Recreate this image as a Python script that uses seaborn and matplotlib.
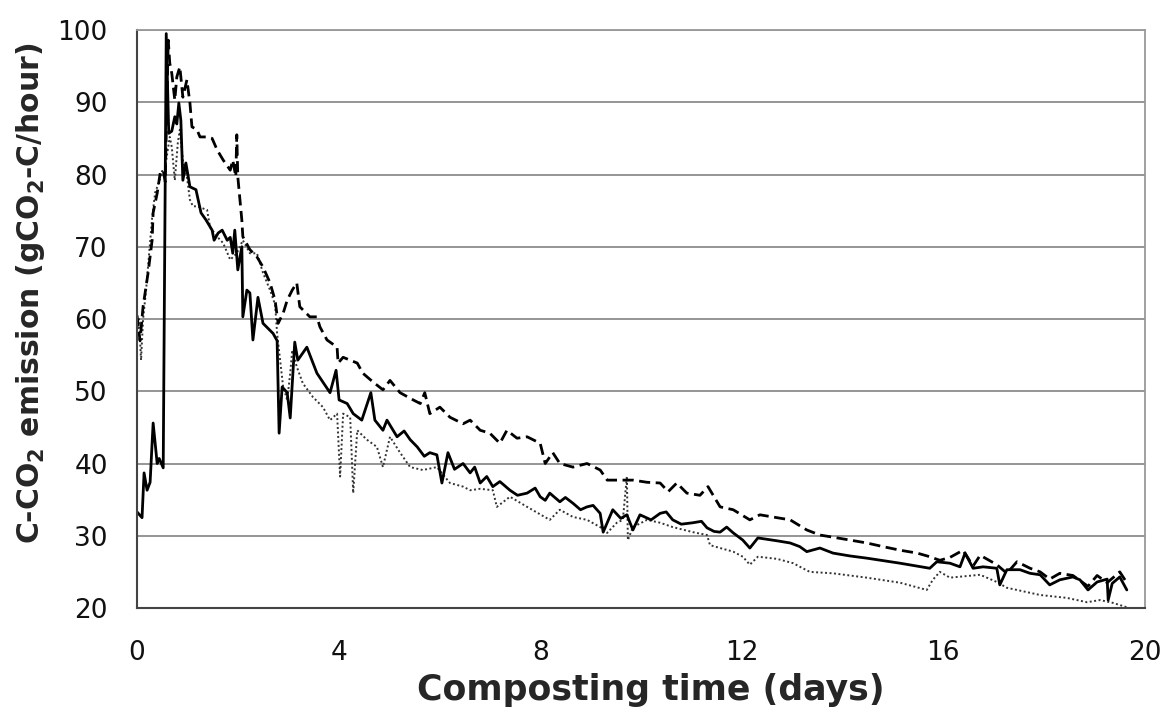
import matplotlib
matplotlib.use('Agg')
import matplotlib.pyplot as plt
import seaborn as sns
import pandas as pd

# values (days, gC-CO2/hour)
solid_t = [0.00, 0.10, 0.14, 0.20, 0.26, 0.32, 0.40, 0.44, 0.52, 0.58, 0.63, 0.69, 0.75, 0.79, 0.83, 0.87,
           0.91, 0.97, 1.05, 1.17, 1.27, 1.37, 1.49, 1.53, 1.61, 1.69, 1.79, 1.85, 1.90, 1.94, 2.00, 2.08,
           2.10, 2.18, 2.24, 2.30, 2.40, 2.50, 2.70, 2.78, 2.82, 2.88, 2.98, 3.04, 3.13, 3.19, 3.37, 3.57,
           3.83, 3.95, 4.01, 4.17, 4.29, 4.46, 4.64, 4.72, 4.88, 4.96, 5.16, 5.30, 5.42, 5.56, 5.70, 5.81,
           5.95, 6.05, 6.17, 6.30, 6.47, 6.61, 6.70, 6.81, 6.94, 7.06, 7.20, 7.40, 7.55, 7.74, 7.90, 8.00,
           8.10, 8.19, 8.39, 8.50, 8.65, 8.80, 8.93, 9.05, 9.19, 9.25, 9.44, 9.60, 9.72, 9.84, 9.98, 10.20,
           10.38, 10.50, 10.63, 10.80, 11.03, 11.20, 11.31, 11.45, 11.57, 11.70, 11.83, 12.02, 12.16, 12.32,
           12.70, 12.96, 13.15, 13.29, 13.55, 13.81, 14.15, 14.48, 15.14, 15.73, 15.87, 16.13, 16.33, 16.43,
           16.59, 16.79, 17.06, 17.12, 17.26, 17.52, 17.72, 17.92, 18.11, 18.31, 18.57, 18.71, 18.87, 19.05,
           19.25, 19.27, 19.35, 19.50, 19.64]
solid_v = [33.3, 32.5, 38.7, 36.3, 37.4, 45.6, 40.0, 40.7, 39.4, 99.5, 85.7, 86.0, 88.0, 87.0, 89.9, 87.5,
           79.2, 81.6, 78.3, 77.9, 74.7, 73.7, 72.3, 70.9, 71.9, 72.3, 70.9, 71.3, 69.1, 72.3, 66.8, 70.0,
           60.3, 64.0, 63.6, 57.1, 63.0, 59.4, 58.0, 57.0, 44.2, 50.6, 49.8, 46.3, 56.8, 54.3, 56.1, 52.5,
           49.8, 52.9, 48.8, 48.3, 46.9, 46.0, 49.8, 46.0, 44.6, 46.0, 43.7, 44.5, 43.3, 42.3, 41.0, 41.5,
           41.2, 37.3, 41.5, 39.2, 40.0, 38.7, 39.5, 37.3, 38.2, 36.8, 37.5, 36.3, 35.6, 35.9, 36.6, 35.4,
           34.9, 35.9, 34.7, 35.3, 34.5, 33.6, 34.0, 34.2, 33.1, 30.5, 33.6, 32.4, 32.9, 30.8, 32.9, 32.2,
           33.1, 33.3, 32.2, 31.6, 31.8, 32.0, 31.1, 30.6, 30.5, 31.2, 30.4, 29.4, 28.3, 29.7,
           29.3, 29.0, 28.5, 27.8, 28.3, 27.6, 27.2, 26.9, 26.2, 25.5, 26.4, 26.2, 25.7, 27.6,
           25.5, 25.7, 25.5, 23.2, 25.3, 25.3, 24.8, 24.6, 23.2, 23.9, 24.3, 23.9, 22.5, 23.6,
           24.0, 21.1, 23.4, 24.3, 22.5]

dashed_t = [0.00, 0.06, 0.12, 0.22, 0.30, 0.32, 0.40, 0.46, 0.52, 0.56, 0.62, 0.65, 0.69, 0.75, 0.79, 0.85,
            0.91, 0.99, 1.05, 1.09, 1.19, 1.25, 1.39, 1.49, 1.59, 1.71, 1.85, 1.90, 1.96, 1.98, 2.00, 2.08,
            2.10, 2.24, 2.38, 2.50, 2.64, 2.74, 2.80, 2.90, 2.98, 3.08, 3.17, 3.23, 3.43, 3.57, 3.63, 3.77,
            3.97, 3.99, 4.09, 4.37, 4.48, 4.68, 4.88, 5.02, 5.22, 5.48, 5.62, 5.71, 5.81, 6.01, 6.21, 6.47,
            6.61, 6.81, 7.00, 7.20, 7.34, 7.54, 7.74, 8.00, 8.10, 8.25, 8.39, 8.65, 8.93, 9.19, 9.33, 9.52,
            9.84, 10.12, 10.38, 10.54, 10.71, 10.91, 11.17, 11.33, 11.57, 11.83, 12.16, 12.36, 12.70, 12.96,
            13.29, 13.55, 13.81, 14.15, 14.48, 14.80, 15.14, 15.48, 15.73, 15.93, 16.13, 16.39, 16.59, 16.73,
            17.06, 17.26, 17.46, 17.72, 17.92, 18.11, 18.31, 18.57, 18.87, 19.05, 19.25, 19.50, 19.64]
dashed_v = [60.5, 57.0, 61.7, 66.4, 70.9, 74.7, 77.4, 80.2, 80.6, 79.0, 98.6, 95.4, 94.0, 90.3, 93.5, 94.9,
            90.7, 93.1, 89.9, 86.6, 86.2, 85.2, 85.2, 85.0, 83.4, 82.0, 80.6, 82.0, 79.7, 85.5, 79.7, 73.7,
            71.4, 69.6, 68.6, 67.2, 65.0, 62.6, 59.4, 60.8, 62.6, 64.0, 65.0, 61.7, 60.3, 60.3, 58.9, 57.1,
            56.1, 53.9, 54.7, 53.9, 52.5, 51.3, 50.2, 51.5, 49.8, 48.8, 48.3, 49.8, 46.9, 47.8, 46.4, 45.5,
            46.0, 44.6, 44.2, 42.8, 44.6, 43.5, 43.7, 42.8, 40.0, 41.5, 40.0, 39.5, 40.0, 39.1, 37.7, 37.7,
            37.7, 37.4, 37.3, 36.1, 37.3, 35.9, 35.6, 36.8, 34.0, 33.6, 32.2, 32.9, 32.5, 32.2,
            30.8, 30.1, 29.8, 29.4, 29.0, 28.5, 28.0, 27.6, 27.1, 26.6, 27.0, 28.0, 25.8, 27.3,
            26.0, 24.8, 26.4, 25.5, 25.0, 24.0, 24.8, 24.5, 23.0, 24.5, 23.5, 25.0, 23.5]

dotted_t = [0.00, 0.04, 0.08, 0.12, 0.18, 0.24, 0.30, 0.36, 0.44, 0.50, 0.54, 0.58, 0.65, 0.69, 0.75, 0.81,
            0.85, 0.91, 0.99, 1.05, 1.11, 1.19, 1.39, 1.45, 1.59, 1.71, 1.85, 1.98, 2.10, 2.24, 2.38, 2.50,
            2.64, 2.74, 2.78, 2.84, 2.90, 2.98, 3.04, 3.08, 3.17, 3.29, 3.49, 3.69, 3.83, 3.97, 4.03, 4.09,
            4.23, 4.29, 4.37, 4.56, 4.76, 4.88, 5.02, 5.22, 5.42, 5.67, 5.95, 6.21, 6.47, 6.61, 6.81, 7.06,
            7.14, 7.40, 7.74, 8.19, 8.39, 8.65, 8.93, 9.19, 9.33, 9.52, 9.64, 9.72, 9.74, 9.84, 10.12, 10.38,
            10.63, 11.03, 11.31, 11.37, 11.57, 11.83, 12.02, 12.16, 12.32, 12.70, 13.02, 13.21, 13.35, 13.81,
            14.48, 15.14, 15.67, 15.79, 15.93, 16.13, 16.73, 17.06, 17.26, 17.92, 18.45, 18.85, 19.11, 19.37,
            19.64]
dotted_v = [58.0, 60.0, 54.3, 59.9, 64.0, 69.0, 74.0, 77.5, 79.0, 80.5, 79.5, 82.0, 85.2, 83.8, 79.2, 84.4,
            86.2, 82.0, 79.7, 76.5, 75.6, 75.6, 75.1, 72.7, 71.4, 70.5, 68.2, 69.1, 70.9, 69.1, 69.1, 66.4,
            64.0, 62.0, 58.0, 54.3, 50.6, 48.8, 52.5, 55.7, 53.4, 51.1, 49.2, 47.8, 46.0, 46.9, 38.2, 46.9,
            46.4, 35.9, 44.6, 43.3, 42.3, 39.5, 43.7, 41.5, 39.5, 39.1, 39.5, 37.3, 36.8, 36.3, 36.5, 36.3,
            34.0, 35.4, 34.0, 32.2, 33.6, 32.6, 32.2, 31.2, 30.4, 31.8, 32.2, 38.2, 29.4, 31.2, 32.2, 31.8,
            31.2, 30.5, 30.1, 28.7, 28.3, 27.8, 27.1, 26.0, 27.1, 26.8, 26.2, 25.5, 25.0, 24.8,
            24.2, 23.5, 22.5, 23.9, 25.0, 24.2, 24.6, 23.6, 22.8, 21.8, 21.4, 20.8, 21.1, 20.7,
            20.1]

x_ticks = [0, 4, 8, 12, 16, 20]
y_ticks = [20, 30, 40, 50, 60, 70, 80, 90, 100]

sns.set_style('white')
plt.rcParams['font.family'] = ['DejaVu Sans']
plt.rcParams['mathtext.fontset'] = 'custom'
plt.rcParams['mathtext.rm'] = 'DejaVu Sans:bold'
plt.rcParams['mathtext.default'] = 'rm'

fig = plt.figure(figsize=(11.65, 7.18), dpi=100)
ax = fig.add_axes([0.1176, 0.1532, 0.8652, 0.805])

sns.lineplot(x=dotted_t, y=dotted_v, ax=ax, color='#333333', lw=1.4, linestyle=(0, (1, 1.3)),
             estimator=None, sort=False)
sns.lineplot(x=dashed_t, y=dashed_v, ax=ax, color='black', lw=2.0, linestyle=(0, (4, 2)),
             estimator=None, sort=False)
sns.lineplot(x=solid_t, y=solid_v, ax=ax, color='black', lw=2.0, estimator=None, sort=False)

ax.set_xlim(0, 20)
ax.set_ylim(20, 100)
ax.set_xticks(x_ticks)
ax.set_yticks(y_ticks)
ax.yaxis.grid(True, color='#8c8c8c', lw=1.3)
ax.set_axisbelow(True)
ax.tick_params(axis='both', length=0, labelsize=19, colors='#111111')
ax.tick_params(axis='y', pad=21)
ax.tick_params(axis='x', pad=23)
for side in ['top', 'right']:
    ax.spines[side].set_color('#999999')
    ax.spines[side].set_linewidth(1.3)
for side in ['left', 'bottom']:
    ax.spines[side].set_color('#444444')
    ax.spines[side].set_linewidth(1.5)

ax.set_xlabel('Composting time (days)', fontsize=25, fontweight='bold')
ax.set_ylabel(r'C-CO$_2$ emission (gCO$_2$-C/hour)', fontsize=21.5, fontweight='bold')
ax.xaxis.set_label_coords(0.51, -0.113)
ax.yaxis.set_label_coords(-0.089, 0.545)

fig.savefig('out.png', dpi=100)
